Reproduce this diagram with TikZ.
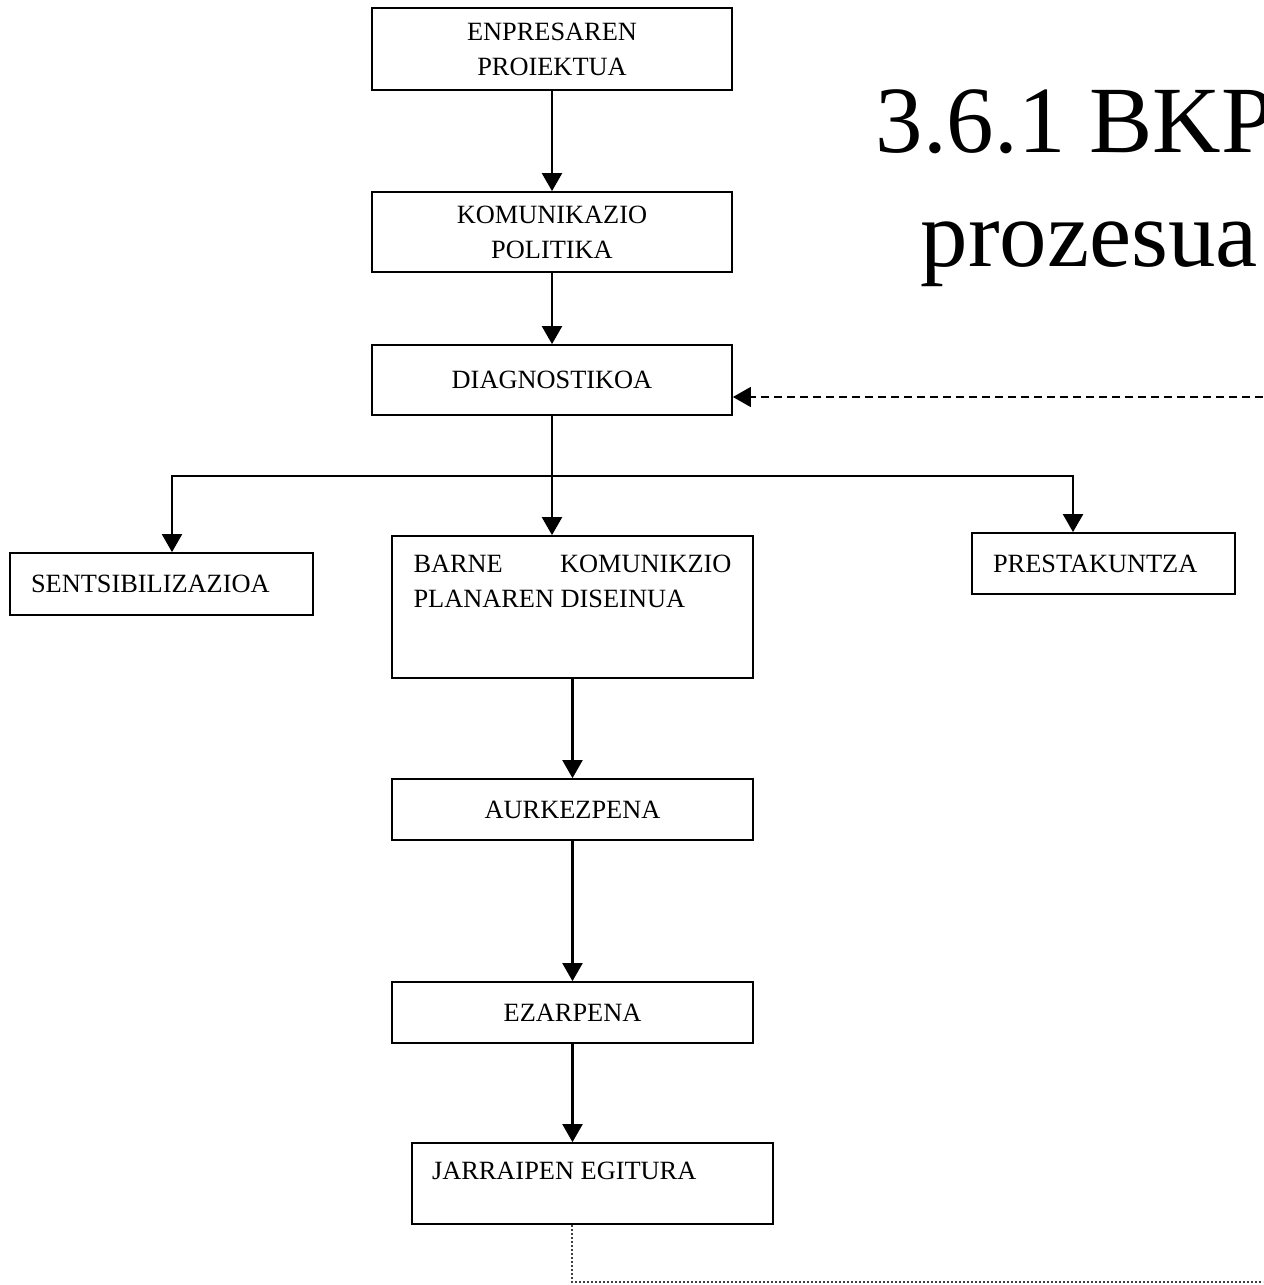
\documentclass[tikz,border=0pt]{standalone}
\usepackage{fontspec}
\setmainfont{Liberation Serif}
\usetikzlibrary{arrows.meta}

\begin{document}
\begin{tikzpicture}[
  box/.style = {shape=rectangle, draw, line width=0.5pt, align=center,
    font=\fontsize{7.5}{10}\selectfont, inner sep=0pt, minimum width=3.6cm},
  arr/.style = {-{Triangle[length=1.8mm,width=2mm]}, line width=0.6pt}]
    \tikzstyle{leftbox}=[box, align=left, inner xsep=2.1mm, minimum width=0pt]
    \tikzstyle{wide}=[box, minimum width=3.61cm]
    \tikzstyle{title}=[anchor=base west, inner sep=0pt,
      font=\fontsize{27}{32}\selectfont]
  \useasboundingbox (0,0) rectangle (12.63,-12.85);
  \clip (0,0) rectangle (12.63,-12.85);
  \node[title] (titleA) at (8.75,-1.53) {3.6.1 BKP};
  \node[title] (titleB) at (9.20,-2.67) {prozesua};
  \node[box, minimum height=0.82cm] (enpresa) at (5.52,-0.49) {ENPRESAREN\\PROIEKTUA};
  \node[box, minimum height=0.80cm] (komunik) at (5.52,-2.32) {KOMUNIKAZIO\\POLITIKA};
  \node[box, minimum height=0.70cm] (diagnos) at (5.52,-3.80) {DIAGNOSTIKOA};
  \node[leftbox, text width=2.61cm, minimum height=0.62cm] (sentsi) at (1.615,-5.84) {SENTSIBILIZAZIOA};
  \node[wide, minimum height=1.42cm] (barne) at (5.725,-6.07)
    {\parbox[c][1.04cm][t]{3.18cm}{BARNE\hfill KOMUNIKZIO\\PLANAREN DISEINUA}};
  \node[leftbox, text width=2.21cm, minimum height=0.61cm] (presta) at (11.035,-5.635) {PRESTAKUNTZA};
  \node[wide, minimum height=0.61cm] (aurkez) at (5.725,-8.095) {AURKEZPENA};
  \node[wide, minimum height=0.61cm] (ezarp) at (5.725,-10.125) {EZARPENA};
  \node[wide, minimum height=0.81cm] (jarrai) at (5.925,-11.835)
    {\parbox[c][0.43cm][t]{3.21cm}{JARRAIPEN EGITURA}};
  \draw[arr] (enpresa) -- (komunik);
  \draw[arr] (komunik) -- (diagnos);
  \draw[arr] (diagnos.south) -- (diagnos.south |- barne.north);
  \path (diagnos.south) ++(0,-0.6) coordinate (split);
  \draw[arr] (split) -| ([xshift=1.05mm]sentsi.north);
  \draw[arr] (split) -| ([xshift=-3.05mm]presta.north);
  \draw[arr] (barne) -- (aurkez);
  \draw[arr] (aurkez) -- (ezarp);
  \draw[arr] (ezarp.south) -- (ezarp.south |- jarrai.north);
  \coordinate (backB) at (5.72,-12.82);
  \coordinate (backR) at (12.63,-3.97);
  \draw[line width=0.4pt, black!75, dash pattern=on 0.2mm off 0.2mm]
    (jarrai.south -| backB) -- (backB) -- (backB -| backR);
  \draw[arr, line width=0.4pt, dash pattern=on 0.8mm off 0.5mm]
    (backR) -- (backR -| diagnos.east);
\end{tikzpicture}
\end{document}
